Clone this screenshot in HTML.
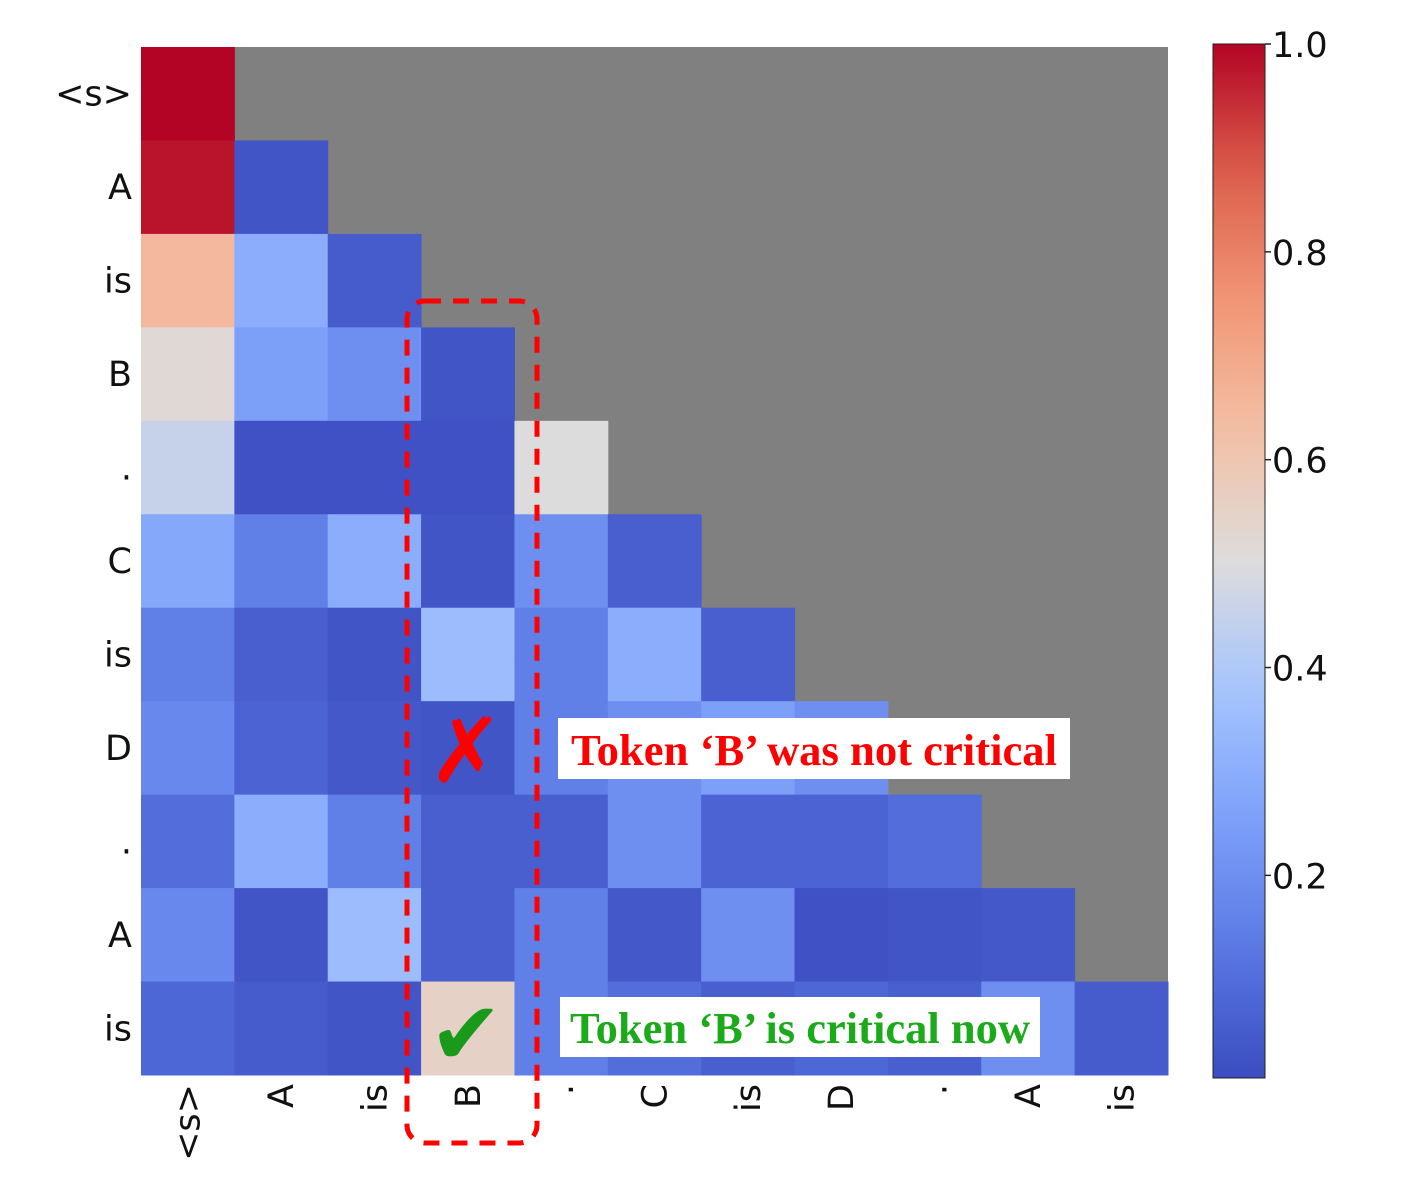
<!DOCTYPE html>
<html><head><meta charset="utf-8"><style>
html,body{margin:0;padding:0;background:#fff;}
svg{display:block;}
</style></head><body>
<svg id="chart" width="1408" height="1202" viewBox="0 0 1408 1202" xmlns="http://www.w3.org/2000/svg">
<rect x="141" y="47" width="1027" height="1028" fill="#808080"/>
<g id="cells"></g>
<g id="ylabels"></g>
<g id="xlabels"></g>
<defs><linearGradient id="cbg" x1="0" y1="1" x2="0" y2="0"></linearGradient></defs>
<rect x="1213" y="44" width="52" height="1034" fill="url(#cbg)" stroke="#222" stroke-width="1"/>
<g id="cbticks"></g>
<rect x="407" y="301" width="130" height="842" rx="18" fill="none" stroke="#f00" stroke-width="5" stroke-dasharray="16,12"/>
<g>
<rect x="558" y="718" width="512" height="61" fill="#fff"/>
<text x="814" y="765" text-anchor="middle" font-family="Liberation Serif, serif" font-weight="bold" font-size="44" fill="#f00" textLength="486" lengthAdjust="spacingAndGlyphs">Token ‘B’ was not critical</text>
</g>
<text x="466" y="782" text-anchor="middle" font-family="DejaVu Sans, sans-serif" font-weight="bold" font-size="90" fill="#f00">✗</text>
<g>
<rect x="560" y="997" width="480" height="60" fill="#fff"/>
<text x="800" y="1043" text-anchor="middle" font-family="Liberation Serif, serif" font-weight="bold" font-size="44" fill="#1aaa1a" textLength="460" lengthAdjust="spacingAndGlyphs">Token ‘B’ is critical now</text>
</g>
<text x="466" y="1064" text-anchor="middle" font-family="DejaVu Sans, sans-serif" font-size="88" fill="#1a9a1a">✔</text>
</svg>
<script>
const tokens=["<s>","A","is","B",".","C","is","D",".","A","is"];
const row0=[1.0];
const row1=[0.98,0.03];
const row2=[0.65,0.30,0.05];
const row3=[0.52,0.25,0.20,0.03];
const row4=[0.45,0.02,0.02,0.02,0.50];
const row5=[0.28,0.15,0.30,0.03,0.20,0.06];
const row6=[0.15,0.06,0.03,0.35,0.15,0.30,0.06];
const row7=[0.18,0.07,0.04,0.03,0.15,0.20,0.25,0.20];
const row8=[0.10,0.30,0.15,0.06,0.06,0.20,0.07,0.07,0.10];
const row9=[0.18,0.03,0.35,0.06,0.15,0.04,0.20,0.02,0.03,0.04];
const row10=[0.08,0.05,0.03,0.55,0.15,0.10,0.06,0.08,0.06,0.20,0.05];
const values=[row0,row1,row2,row3,row4,row5,row6,row7,row8,row9,row10];
const cbTicks=[0.2,0.4,0.6,0.8,1.0];
const vmin=0.005,vmax=1.0;
const stops=[[0,[59,76,192]],[0.125,[90,120,228]],[0.25,[125,160,249]],[0.375,[165,196,254]],[0.5,[221,220,220]],[0.625,[244,192,166]],[0.75,[240,150,118]],[0.875,[220,95,75]],[1,[180,4,38]]];
function cmap(v){let t=Math.max(0,Math.min(1,(v-vmin)/(vmax-vmin)));
for(let i=1;i<stops.length;i++){if(t<=stops[i][0]){const a=stops[i-1],b=stops[i];const f=(t-a[0])/(b[0]-a[0]);
const c=a[1].map((x,k)=>Math.round(x+(b[1][k]-x)*f));return `rgb(${c})`;}}return 'rgb(180,4,38)';}
const X0=141,Y0=47,W=1027,H=1028,n=tokens.length,cw=W/n,ch=H/n;
const xs=i=>X0+i*cw, ys=j=>Y0+j*ch;
const NS="http://www.w3.org/2000/svg";
const cells=document.getElementById('cells');
values.forEach((r,j)=>r.forEach((v,i)=>{const e=document.createElementNS(NS,'rect');
e.setAttribute('x',xs(i));e.setAttribute('y',ys(j));e.setAttribute('width',cw+0.5);e.setAttribute('height',ch+0.5);e.setAttribute('fill',cmap(v));


cells.appendChild(e);}));
const yl=document.getElementById('ylabels'),xl=document.getElementById('xlabels');
tokens.forEach((t,k)=>{let e=document.createElementNS(NS,'text');
e.setAttribute('x',132);e.setAttribute('y',ys(k)+ch/2+12);e.setAttribute('text-anchor','end');
e.setAttribute('font-family','DejaVu Sans, sans-serif');e.setAttribute('font-size','35');e.setAttribute('fill','#111');e.textContent=t;


yl.appendChild(e);
e=document.createElementNS(NS,'text');const cx=xs(k)+cw/2+12,cy=1084;
e.setAttribute('x',cx);e.setAttribute('y',cy);e.setAttribute('text-anchor','end');e.setAttribute('transform',`rotate(-90 ${cx} ${cy})`);
e.setAttribute('font-family','DejaVu Sans, sans-serif');e.setAttribute('font-size','35');e.setAttribute('fill','#111');e.textContent=t;


xl.appendChild(e);});
const g=document.getElementById('cbg');
for(let i=0;i<=20;i++){const s=document.createElementNS(NS,'stop');const v=vmin+(vmax-vmin)*i/20;s.setAttribute('offset',i/20);s.setAttribute('stop-color',cmap(v));g.appendChild(s);}
const cbY=v=>1078-(v-vmin)/(vmax-vmin)*1034;
const cbt=document.getElementById('cbticks');
cbTicks.forEach(v=>{const y=cbY(v);const l=document.createElementNS(NS,'line');
l.setAttribute('x1',1265);l.setAttribute('x2',1271);l.setAttribute('y1',y);l.setAttribute('y2',y);l.setAttribute('stroke','#222');l.setAttribute('stroke-width','1.5');


cbt.appendChild(l);
const t=document.createElementNS(NS,'text');t.setAttribute('x',1272);t.setAttribute('y',y+13);
t.setAttribute('font-family','DejaVu Sans, sans-serif');t.setAttribute('font-size','35');t.setAttribute('fill','#111');t.textContent=v.toFixed(1);


cbt.appendChild(t);});
</script>
</body></html>
